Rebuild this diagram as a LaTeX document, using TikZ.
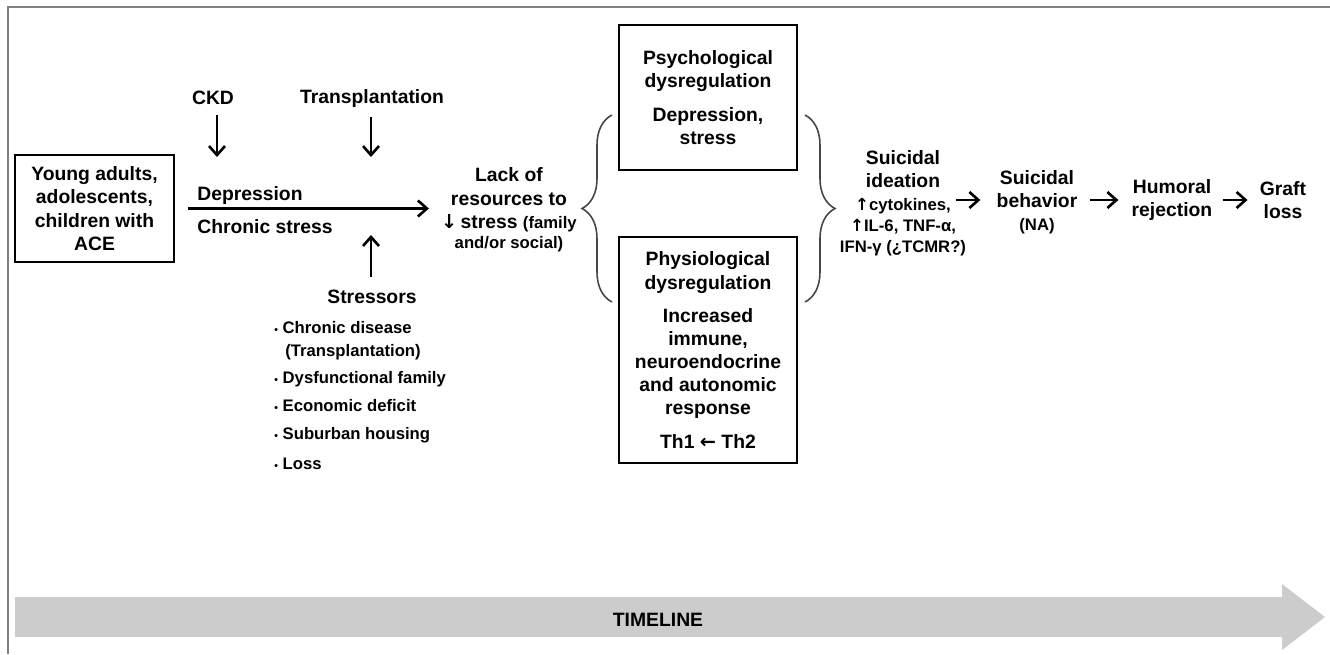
\documentclass[tikz,border=0pt]{standalone}
\usepackage{fontspec}
\setmainfont{Liberation Sans}
\newfontfamily\symf{DejaVu Sans}
\usetikzlibrary{arrows.meta, positioning, calc, decorations.pathreplacing}
\definecolor{frameGray}{RGB}{128,128,128}
\definecolor{timeGray}{RGB}{204,204,204}
\definecolor{braceGray}{RGB}{70,70,70}
\newcommand{\smalltxt}{\fontsize{9.5}{11.5}\selectfont}
\newcommand{\symarrow}[1]{{\symf #1}}

\begin{document}
\begin{tikzpicture}[
  x=0.02cm, y=-0.02cm,
  every node/.style={font=\fontsize{11}{13.2}\selectfont\bfseries, inner sep=0pt, align=center},
  box/.style={draw, line width=0.8pt},
  item/.style={anchor=base west, font=\smalltxt\bfseries},
  arr/.style={-{Straight Barb[length=1.8mm,width=3.2mm]}, line width=1.5pt},
  brace/.style={decorate, decoration={brace, amplitude=0.6cm}, braceGray, line width=0.9pt}
]
  \useasboundingbox (0,0) rectangle (1330,654);
  % frame
  \draw[frameGray, line width=1.2pt] (8,654) -- (8,7) -- (1330,7);

  % start
  \node[box, minimum width=3.18cm, minimum height=2.14cm] (young) at (94.5,208.5)
    {Young adults,\\adolescents,\\children with\\ACE};
  \node (ckd) at (213,98) {CKD};
  \node (transp) at (372,98) {Transplantation};
  \coordinate (ckdA) at (217,157);
  \coordinate (transpA) at (371,157);
  \draw[arr, shorten <=0.2cm] (ckd.south -| ckdA) -- (ckdA);
  \draw[arr, shorten <=0.2cm] (transp.south -| transpA) -- (transpA);

  \node[anchor=west] (depr) at (197,195) {Depression};
  \node[anchor=west] (chronic) at (197,227) {Chronic stress};

  % stressors
  \node (stressors) at (372,297) {Stressors};
  \coordinate (stressA) at (371,235);
  \draw[arr, shorten <=0.26cm] (stressors.north -| stressA) -- (stressA);
  \node[item] (s1) at (274,333) {{\fontsize{6}{6}\selectfont•}\;Chronic disease};
  \node[item] (s1b) at (285,356) {(Transplantation)};
  \node[item] (s2) at (274,383) {{\fontsize{6}{6}\selectfont•}\;Dysfunctional family};
  \node[item] (s3) at (274,411) {{\fontsize{6}{6}\selectfont•}\;Economic deficit};
  \node[item] (s4) at (274,439) {{\fontsize{6}{6}\selectfont•}\;Suburban housing};
  \node[item] (s5) at (274,469) {{\fontsize{6}{6}\selectfont•}\;Loss};

  % lack of resources
  \node (lack) at (509,210)
    {Lack of\\resources to\\\symarrow{↓}\,stress {\smalltxt (family}\\[-1.5pt]{\smalltxt and/or social)}};
  \draw[arr, shorten <=0.26cm, shorten >=0.24cm] (young.east) -- (young.east -| lack.west);

  % dysregulation boxes
  \node[box, minimum width=3.56cm, minimum height=2.9cm] (psych) at (708,97.5)
    {Psychological\\dysregulation\\[0.2cm]Depression,\\stress};
  \node[box, minimum width=3.56cm, minimum height=4.52cm] (physio) at (708,350)
    {Physiological\\dysregulation\\[0.2cm]Increased\\immune,\\neuroendocrine\\and autonomic\\response\\[0.2cm]Th1 \symarrow{←} Th2};
  \draw[brace] (612,302) -- (612,115);
  \draw[brace] (805,115) -- (805,302);

  % outcomes
  \node (ideation) at (903,203)
    {Suicidal\\ideation\\{\smalltxt\symarrow{↑}cytokines,}\\[-1.5pt]{\smalltxt\symarrow{↑}IL-6, TNF-α,}\\[-1.5pt]{\smalltxt IFN-γ (¿TCMR?)}};
  \node (behavior) at (1037,202) {Suicidal\\behavior\\{\smalltxt (NA)}};
  \node (humoral) at (1172,200) {Humoral\\rejection};
  \node (graft) at (1283,200) {Graft\\loss};
  \draw[arr] ($(ideation.east |- humoral)+(-10,0)$) -- ($(behavior.west |- humoral)+(-16,0)$);
  \draw[arr, shorten <=0.24cm, shorten >=0.26cm] (behavior.east |- humoral) -- (humoral.west);
  \draw[arr, shorten <=0.2cm, shorten >=0.24cm] (humoral.east) -- (graft.west);

  % timeline
  \fill[timeGray] (15,597) -- (1282,597) -- (1282,584) -- (1325,617) -- (1282,650)
    -- (1282,637) -- (15,637) -- cycle;
  \node (timeline) at (658,620) {TIMELINE};
\end{tikzpicture}
\end{document}
